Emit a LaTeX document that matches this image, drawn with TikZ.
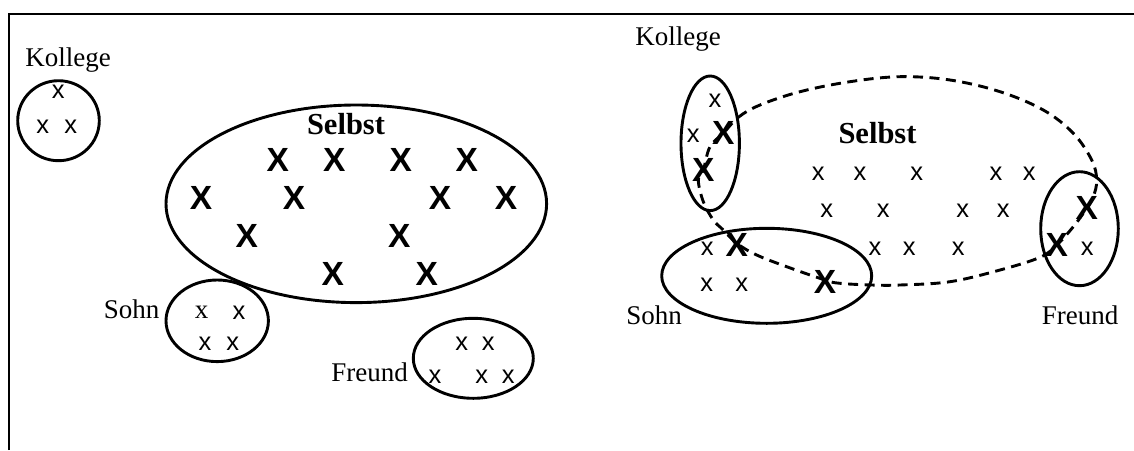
\documentclass[tikz,border=0pt]{standalone}
\usepackage{fontspec}
\usetikzlibrary{shapes.geometric}
\newfontfamily\lbserif{Liberation Serif}
\newfontfamily\lbsans{Liberation Sans}
\begin{document}
\begin{tikzpicture}[x=1pt,y=-1pt,
  lbl/.style={font={\lbserif\fontsize{27}{30}\selectfont}, anchor=base, inner sep=0pt},
  selbst/.style={font={\lbserif\bfseries\fontsize{30.5}{34}\selectfont}, anchor=base, inner sep=0pt},
  bx/.style={font={\lbsans\bfseries\fontsize{33.5}{36}\selectfont}, inner sep=0pt},
  sx/.style={font={\lbsans\fontsize{25.5}{28}\selectfont}, inner sep=0pt},
  tx/.style={font={\lbserif\fontsize{27}{30}\selectfont}, inner sep=0pt},
  grp/.style={draw, ellipse, line width=2.9pt, inner sep=0pt},
  frame/.style={line width=2.6pt},
  link/.style={line width=2.9pt, dash pattern=on 10pt off 6.5pt}]
\useasboundingbox (0,0) rectangle (1134,450);
% frame (left and top edges)
\coordinate (fbl) at (9,450);
\coordinate (ftl) at (9,14);
\coordinate (ftr) at (1134,14);
\draw[frame] (fbl) -- (ftl) -- (ftr);

% ---------- left panel ----------
\node[lbl] (kolL) at (68,66.7) {Kollege};
\node[grp, minimum width=81.6pt, minimum height=80pt] (kolLe) at (58.5,120.7) {};
\node[sx] (kl1) at (58.3,91.7) {x};
\node[sx] (kl2) at (42.7,126.7) {x};
\node[sx] (kl3) at (70.7,126.7) {x};

\node[grp, minimum width=380.6pt, minimum height=197.6pt] (selL) at (356.3,203.8) {};
\node[selbst] (selLt) at (346,134) {Selbst};
\foreach \px/\py [count=\i] in {277.7/160,334.3/160,400.7/160,466.7/160,
    201/198.3,294/198.3,440/198.3,506/198.3,
    246.7/236,399.3/236,332.7/274.3,426.7/274.3}
  \node[bx] (sl\i) at (\px,\py) {X};

\node[lbl] (sohL) at (131.7,318.3) {Sohn};
\node[grp, minimum width=102.4pt, minimum height=81.6pt] (sohLe) at (217.2,320.8) {};
\node[tx] (so1) at (201.7,312.7) {x};
\node[sx] (so2) at (239,312.7) {x};
\node[sx] (so3) at (205,344) {x};
\node[sx] (so4) at (232.7,344) {x};

\node[lbl] (freL) at (369.5,381.7) {Freund};
\node[grp, minimum width=120pt, minimum height=80pt] (freLe) at (473.3,358.3) {};
\foreach \px/\py [count=\i] in {461.7/343.3,488.3/343.3,435/376.7,481.7/376.7,508.3/376.7}
  \node[sx] (fl\i) at (\px,\py) {x};

% ---------- right panel ----------
\node[lbl] (kolR) at (678,45) {Kollege};
\node[grp, minimum width=58.4pt, minimum height=134.6pt] (kolRe) at (710.2,143.3) {};
\node[sx] (kr1) at (715,100.7) {x};
\node[sx] (kr2) at (693.3,136) {x};
\node[bx] (kr3) at (723.3,133.3) {X};
\node[bx] (kr4) at (703.3,170) {X};

\node[selbst] (selRt) at (877.5,143.3) {Selbst};
\foreach \px/\py [count=\i] in {818.3/174,860/174,916.7/174,996/174,1029.3/174,
    826.7/210.7,883.3/210.7,962.7/210.7,1003.3/210.7,
    875/248.3,909.3/248.3,958.3/248.3}
  \node[sx] (sr\i) at (\px,\py) {x};

\node[lbl] (sohR) at (654,324) {Sohn};
\node[grp, minimum width=210pt, minimum height=95pt] (sohRe) at (766.7,275.8) {};
\node[sx] (sr13) at (707.3,248.3) {x};
\node[bx] (srX1) at (736.7,245) {X};
\node[sx] (sr14) at (706.7,285) {x};
\node[sx] (sr15) at (741.7,285) {x};
\node[bx] (srX2) at (825,281.7) {X};

\node[lbl] (freR) at (1080,324) {Freund};
\node[grp, minimum width=77.6pt, minimum height=114pt] (freRe) at (1079.5,228.7) {};
\node[bx] (frX1) at (1086.7,208.3) {X};
\node[bx] (frX2) at (1056.7,245) {X};
\node[sx] (fr1) at (1087.3,248.3) {x};

% dashed outline of the shared self, through the overlapping members
\draw[link] plot[smooth cycle, tension=0.6] coordinates {
  (723.3,133.3) (738.3,117.3) (760,105) (800,91.7) (850,81.7) (900,76.7)
  (950,80) (1000,91.7) (1043.3,110) (1073.3,133.3) (1091.7,160) (1096.7,180)
  (1093.3,196.7) (1086.7,208.3) (1073.3,226.7) (1056.7,245) (1040,257.3)
  (1000,270) (950,281.7) (900,285) (871.7,285) (840,283.3) (825,280)
  (786.7,266.7) (756.7,255) (736.7,243.3) (723.3,230) (713.3,220)
  (703.3,201.7) (698.3,180) (703.3,170) (710,146.7)};
\end{tikzpicture}
\end{document}
